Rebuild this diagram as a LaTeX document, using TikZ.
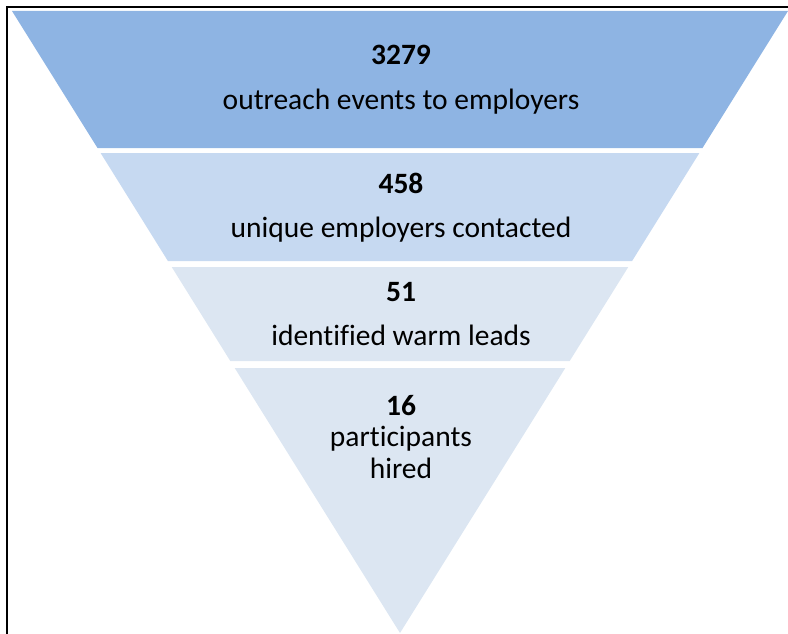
\documentclass[tikz,border=0pt]{standalone}
\usepackage{fontspec}
\setmainfont{Carlito}[Ligatures=NoCommon]
\definecolor{bandA}{HTML}{8EB4E3}
\definecolor{bandB}{HTML}{C6D9F1}
\definecolor{bandC}{HTML}{DCE6F2}
\begin{document}
\begin{tikzpicture}[x=1pt,y=-1pt,
  label/.style={anchor=base,inner sep=0pt,font=\fontsize{29.5}{32}\selectfont,text=black},
  figure/.style={label,font=\fontsize{29.5}{32}\selectfont\bfseries}]
\useasboundingbox (0,0) rectangle (788,634);
% frame
\draw[line width=2pt] (6.5,640) -- (6.5,7.5) -- (795,7.5);
% funnel bands (centre x = 400, apex at y = 633)
\fill[bandA] (12,11) -- (788,11) -- (702.5,148) -- (97.5,148) -- cycle;
\fill[bandB] (100.6,153) -- (699.4,153) -- (632.1,261) -- (167.9,261) -- cycle;
\fill[bandC] (171.7,267) -- (628.3,267) -- (569.7,361) -- (230.3,361) -- cycle;
\fill[bandC] (234.7,368) -- (565.3,368) -- (400,633) -- cycle;
% texts
\node[figure] (n1) at (401,65) {3279};
\node[label] (t1) at (401,110) {outreach events to employers};
\node[figure] (n2) at (401,193) {458};
\node[label] (t2) at (401,237) {unique employers contacted};
\node[figure] (n3) at (401,301) {51};
\node[label] (t3) at (401,345) {identified warm leads};
\node[figure] (n4) at (401,415) {16};
\node[label] (t4) at (401,446) {participants};
\node[label] (t5) at (401,478) {hired};
\end{tikzpicture}
\end{document}
